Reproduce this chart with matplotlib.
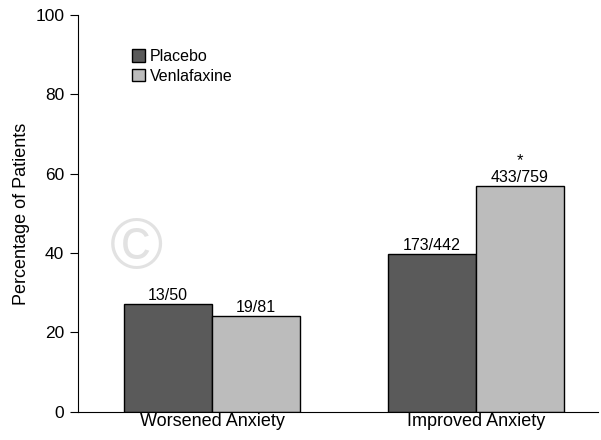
import matplotlib.pyplot as plt
import numpy as np

plt.rcParams["font.family"] = ["Liberation Sans", "DejaVu Sans"]

groups = ["Worsened Anxiety", "Improved Anxiety"]
series = ["Placebo", "Venlafaxine"]
placebo = [27.2, 39.8]
venlafaxine = [24.2, 56.9]
placebo_labels = ["13/50", "173/442"]
venla_labels = ["19/81", "433/759"]
colors = ["#5a5a5a", "#bcbcbc"]


def main():
    fig = plt.figure(figsize=(6.01, 4.40), dpi=100)
    ax = fig.add_axes([0.130, 0.064, 0.865, 0.902])

    x = np.arange(len(groups))
    w = 1 / 3
    b1 = ax.bar(x - w / 2, placebo, w, color=colors[0], edgecolor="black", linewidth=1.0, label=series[0])
    b2 = ax.bar(x + w / 2, venlafaxine, w, color=colors[1], edgecolor="black", linewidth=1.0, label=series[1])

    for bar, lab in zip(b1, placebo_labels):
        ax.text(bar.get_x() + bar.get_width() / 2, bar.get_height() + 0.3, lab,
                ha="center", va="bottom", fontsize=11.5)
    for bar, lab in zip(b2, venla_labels):
        ax.text(bar.get_x() + bar.get_width() / 2, bar.get_height() + 0.3, lab,
                ha="center", va="bottom", fontsize=11.5)
    # significance marker
    ax.text(b2[1].get_x() + b2[1].get_width() / 2, venlafaxine[1] + 4.6, "*",
            ha="center", va="bottom", fontsize=12)

    # faint watermark
    ax.text(0.113, 0.41, "\u00a9", transform=ax.transAxes, fontsize=52,
            color="#e2e2e2", ha="center", va="center", zorder=0)

    ax.set_xlim(-0.508, 1.462)
    ax.set_ylim(0, 100)
    ax.set_yticks([0, 20, 40, 60, 80, 100])
    ax.set_xticks(x)
    ax.set_xticklabels(groups, fontsize=13)
    ax.tick_params(axis="x", length=0, pad=1)
    ax.tick_params(axis="y", labelsize=12.5, length=6, direction="out", pad=4)
    ax.set_ylabel("Percentage of Patients", fontsize=13, labelpad=4)

    for side in ["top", "right"]:
        ax.spines[side].set_visible(False)

    ax.legend(loc="upper left", bbox_to_anchor=(0.091, 0.93), frameon=False,
              fontsize=11.5, handlelength=0.8, handleheight=0.8, handletextpad=0.35,
              labelspacing=0.3, borderaxespad=0)

    fig.savefig("out.png", dpi=100, facecolor="white")


if __name__ == "__main__":
    main()
